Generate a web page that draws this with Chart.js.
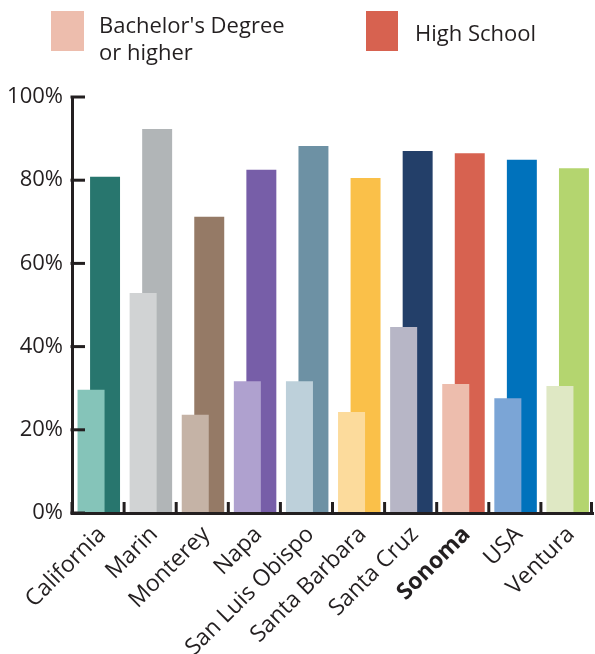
<!DOCTYPE html>
<html>
<head>
<meta charset="utf-8">
<script src="https://cdn.jsdelivr.net/npm/chart.js@4/dist/chart.umd.min.js"></script>
<style>
  html, body { margin: 0; padding: 0; background: #ffffff; }
  #wrap { position: relative; width: 595px; height: 654px; overflow: hidden; }
  #c { position: absolute; left: 0; top: 0; }
  .lg-box { position: absolute; width: 33px; height: 40px; }
  .lg-text { position: absolute; font-family: 'Open Sans', sans-serif; font-size: 22px; line-height: 27px; color: #231f20; white-space: nowrap; }
</style>
</head>
<body>
<div id="wrap">
  <canvas id="c" width="595" height="654"></canvas>
  <div class="lg-box" style="left:51px; top:11px; background:#EDBDAD;"></div>
  <div class="lg-text" style="left:99px; top:11px;">Bachelor's Degree<br>or higher</div>
  <div class="lg-box" style="left:366px; top:11px; width:32px; background:#D76250;"></div>
  <div class="lg-text" style="left:415px; top:19px;">High School</div>
</div>
<script>
const categories = ['California', 'Marin', 'Monterey', 'Napa', 'San Luis Obispo', 'Santa Barbara', 'Santa Cruz', 'Sonoma', 'USA', 'Ventura'];
const bachelorOrHigher = [29.6, 52.9, 23.6, 31.7, 31.7, 24.3, 44.7, 31.0, 27.6, 30.5];
const highSchool = [80.8, 92.3, 71.2, 82.5, 88.2, 80.5, 87.0, 86.5, 84.9, 82.9];
const yTicks = [0, 20, 40, 60, 80, 100];
const seriesNames = ["Bachelor's Degree or higher", 'High School'];
const highlighted = 'Sonoma';

const lightColors = ['#85C4B9', '#D1D3D4', '#C5B3A6', '#AFA1CF', '#BDD0DA', '#FCDB9C', '#B7B6C6', '#EDBDAD', '#7BA5D6', '#DFE8C4'];
const darkColors = ['#28766E', '#B1B5B7', '#957A66', '#775EA8', '#6D91A4', '#FAC049', '#233F69', '#D76250', '#0072BC', '#B4D56F'];

const INK = '#231f20';
const FONT = "'Open Sans', sans-serif";

// Inward tick marks on both axes, positioned from the chart's own scales.
const inwardTicks = {
  id: 'inwardTicks',
  afterDraw(chart) {
    const ctx = chart.ctx;
    const xs = chart.scales.x;
    const ys = chart.scales.y;
    const area = chart.chartArea;
    ctx.save();
    ctx.strokeStyle = INK;
    ctx.lineWidth = 3;
    ctx.lineCap = 'butt';
    const n = xs.ticks.length;
    for (let i = 0; i <= n; i++) {
      let px;
      if (i < n) {
        const c = xs.getPixelForTick(i);
        const prev = i > 0 ? xs.getPixelForTick(i - 1) : c - (xs.getPixelForTick(1) - c);
        px = (c + prev) / 2;
      } else {
        const c = xs.getPixelForTick(n - 1);
        px = c + (c - xs.getPixelForTick(n - 2)) / 2;
      }
      px = Math.min(px, area.right - 1.5);
      ctx.beginPath();
      ctx.moveTo(px, area.bottom + 1.5);
      ctx.lineTo(px, area.bottom - 11);
      ctx.stroke();
    }
    for (const v of yTicks) {
      const py = ys.getPixelForValue(v);
      ctx.beginPath();
      ctx.moveTo(area.left - 1.5, py);
      ctx.lineTo(area.left + 13, py);
      ctx.stroke();
    }
    ctx.restore();
  }
};

new Chart(document.getElementById('c'), {
  type: 'bar',
  data: {
    labels: categories,
    datasets: [
      { label: seriesNames[0], data: bachelorOrHigher, backgroundColor: lightColors, borderWidth: 0, categoryPercentage: 0.5375, barPercentage: 1.93 },
      { label: seriesNames[1], data: highSchool, backgroundColor: darkColors, borderWidth: 0, categoryPercentage: 0.5375, barPercentage: 2.14 }
    ]
  },
  options: {
    responsive: false,
    animation: false,
    events: [],
    layout: { padding: { top: 97, right: 2, left: 0, bottom: 0 } },
    plugins: { legend: { display: false }, tooltip: { enabled: false } },
    scales: {
      x: {
        offset: true,
        border: { display: true, color: INK, width: 3, z: 1 },
        grid: { display: false, drawOnChartArea: false, drawTicks: false },
        ticks: {
          autoSkip: false, minRotation: 45, maxRotation: 45, padding: 8, labelOffset: 4, color: INK,
          font: (ctx) => ({ family: FONT, size: 23, weight: categories[ctx.index] === highlighted ? 'bold' : 'normal' })
        },
        afterFit: (s) => { s.height = 141; s.paddingLeft = 0; s.paddingRight = 0; }
      },
      y: {
        min: 0, max: 100,
        afterBuildTicks: (s) => { s.ticks = yTicks.map(v => ({ value: v })); },
        border: { display: true, color: INK, width: 3, z: 1 },
        grid: { display: false, drawOnChartArea: false, drawTicks: false },
        ticks: { padding: 9, color: INK, font: { family: FONT, size: 22 }, callback: (v) => v + '%' },
        afterFit: (s) => { s.width = 72; }
      }
    }
  },
  plugins: [inwardTicks]
});
</script>
</body>
</html>
